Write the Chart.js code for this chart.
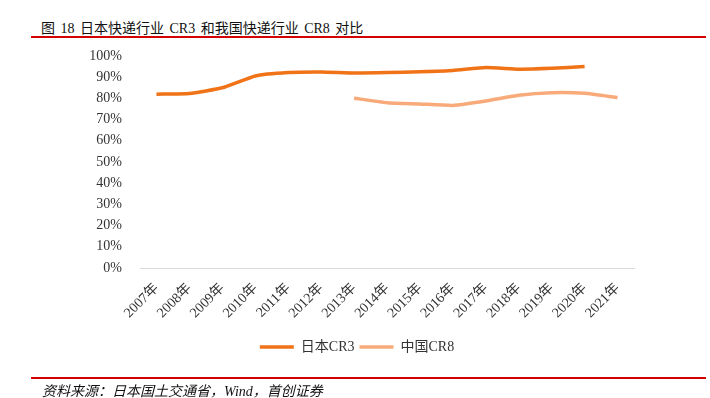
<!DOCTYPE html>
<html>
<head>
<meta charset="utf-8">
<script src="https://cdn.jsdelivr.net/npm/chart.js@4.4.0/dist/chart.umd.min.js"></script>
<style>
  body { margin: 0; background: #fff; }
  #wrap { position: relative; width: 710px; height: 398px; overflow: hidden; }
  #title { position: absolute; left: 41px; top: 17px; font: 14px "Liberation Serif", "Noto Sans CJK SC", serif; word-spacing: 2px; color: #111; white-space: nowrap; }
  #topline { position: absolute; left: 31px; right: 4px; top: 36px; height: 2px; background: #d40000; }
  #botline { position: absolute; left: 31px; right: 4px; top: 377px; height: 2px; background: #d40000; }
  #source { position: absolute; left: 42px; top: 380px; font: italic 14px "Liberation Serif", "Noto Sans CJK SC", serif; color: #111; white-space: nowrap; }
  canvas { position: absolute; left: 0; top: 0; }
</style>
</head>
<body>
<div id="wrap">
  <div id="title">图 18 日本快递行业 CR3 和我国快递行业 CR8 对比</div>
  <div id="topline"></div>
  <canvas id="chart" width="710" height="398"></canvas>
  <div id="botline"></div>
  <div id="source">资料来源：日本国土交通省，Wind，首创证券</div>
</div>
<script>
// categories and series (percent)
const years = ["2007年", "2008年", "2009年", "2010年", "2011年", "2012年", "2013年", "2014年",
  "2015年", "2016年", "2017年", "2018年", "2019年", "2020年", "2021年"];
const japanCR3 = [82.0, 82.3, 85.0, 90.6, 92.2, 92.5, 92.0, 92.2, 92.6, 93.2, 94.6, 93.8, 94.2, 95.0, null];
const chinaCR8 = [null, null, null, null, null, null, 80.1, 78.0, 77.4, 76.7, 78.8, 81.5, 82.7, 82.4, 80.4];
const yTicks = [0, 10, 20, 30, 40, 50, 60, 70, 80, 90, 100];

const family = '"Liberation Serif", "Noto Sans CJK SC", serif';

function draw() {
  new Chart(document.getElementById("chart"), {
    type: "line",
    data: {
      labels: years,
      datasets: [
        {
          label: "日本CR3",
          data: japanCR3,
          borderColor: "#f07318",
          backgroundColor: "#f07318",
          borderWidth: 3.5,
          pointRadius: 0,
          tension: 0.15,
        },
        {
          label: "中国CR8",
          data: chinaCR8,
          borderColor: "#f8aa7a",
          backgroundColor: "#f8aa7a",
          borderWidth: 3.5,
          pointRadius: 0,
          tension: 0.15,
        },
      ],
    },
    options: {
      responsive: false,
      animation: false,
      layout: {
        padding: { left: 80, right: 76, top: 56, bottom: 34 },
      },
      scales: {
        y: {
          min: 0,
          max: 100,
          afterFit: (s) => { s.width = 60; },
          afterBuildTicks: (s) => { s.ticks = yTicks.map((v) => ({ value: v })); },
          grid: { display: false },
          border: { display: false },
          ticks: {
            padding: 10,
            color: "#333",
            font: { family: family, size: 14 },
            callback: (v) => v + "%",
          },
        },
        x: {
          offset: true,
          afterFit: (s) => { s.height = 67; },
          grid: { display: false },
          border: { display: true, color: "#d9d9d9", width: 1 },
          ticks: {
            minRotation: 45,
            maxRotation: 45,
            padding: 4,
            color: "#333",
            font: { family: family, size: 14 },
          },
        },
      },
      plugins: {
        legend: {
          position: "bottom",
          labels: {
            usePointStyle: true,
            pointStyle: "line",
            pointStyleWidth: 34,
            padding: 5,
            color: "#333",
            font: { family: family, size: 14 },
          },
        },
        tooltip: { enabled: false },
      },
    },
  });
}

Promise.all([
  document.fonts.load('14px "Liberation Serif"'),
  document.fonts.load('14px "Noto Sans CJK SC"', "年日本中国"),
]).then(draw, draw);
</script>
</body>
</html>
